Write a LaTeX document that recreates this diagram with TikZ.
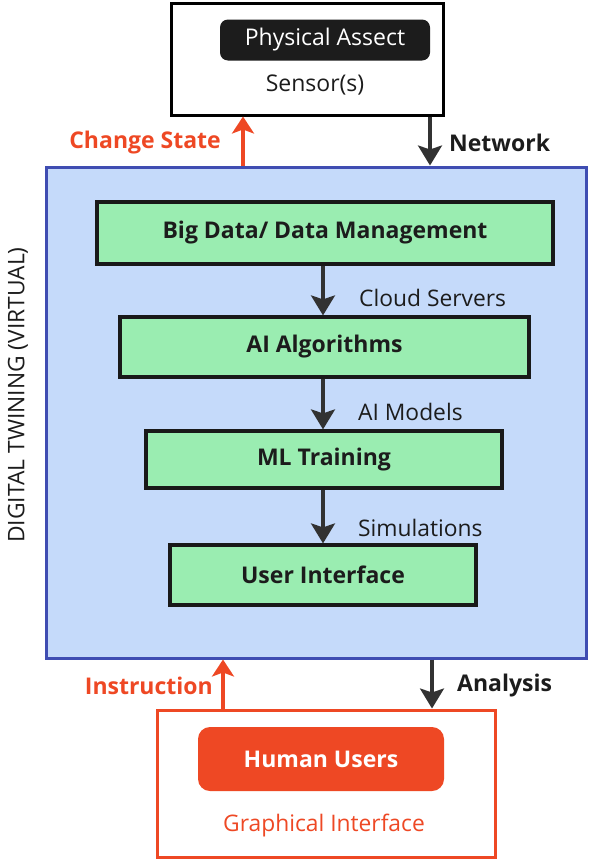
\documentclass[tikz,border=0pt]{standalone}
\usepackage{fontspec}
\setmainfont{Open Sans}
\usetikzlibrary{arrows.meta,calc}
\definecolor{dtred}{RGB}{238,72,36}
\definecolor{dtblue}{RGB}{197,218,250}
\definecolor{dtblueb}{RGB}{63,77,178}
\definecolor{dtgreen}{RGB}{154,237,177}
\definecolor{dtdark}{RGB}{28,28,28}
\definecolor{dtarrow}{RGB}{50,50,50}
\tikzset{
  frame/.style={draw, line width=3pt, inner sep=0pt},
  stepbox/.style={draw=black!90, fill=dtgreen, line width=3.2pt, inner sep=0pt, font=\bfseries\fontsize{23}{27}\selectfont, text=dtdark},
  lbl/.style={font=\fontsize{22.8}{27}\selectfont, inner sep=0pt},
  blbl/.style={font=\bfseries\fontsize{23}{27}\selectfont, inner sep=0pt},
  darr/.style={draw=dtarrow, line width=3.2pt, -{Stealth[length=20pt,width=24pt,inset=4pt]}},
  rarr/.style={draw=dtred, line width=3.2pt, -{Stealth[length=17pt,width=22pt,inset=4pt]}},
}
\begin{document}
\begin{tikzpicture}[x=1pt,y=-1pt]
\useasboundingbox (0,0) rectangle (598,865);
% top box
\node[frame, draw=black, fill=white, minimum width=272, minimum height=112] (top) at (307,59) {};
\node[fill=dtdark, rounded corners=8pt, minimum width=210, minimum height=41, inner sep=0pt, text=white, font=\fontsize{23}{27}\selectfont] (pa) at (325,40) {Physical Assect};
\node[lbl, text=dtdark, font=\fontsize{23}{27}\selectfont] (sen) at (315,85) {Sensor(s)};
% blue box
\node[frame, draw=dtblueb, fill=dtblue, minimum width=540, minimum height=491] (dt) at (316,412.5) {};
\node[lbl, text=dtdark, rotate=90] (dtl) at (18,395) {DIGITAL TWINING (VIRTUAL)};
% green steps
\node[stepbox, minimum width=456, minimum height=62] (bd) at (325,233) {Big Data/ Data Management};
\node[stepbox, minimum width=409, minimum height=60] (ai) at (324.5,347) {AI Algorithms};
\node[stepbox, minimum width=356, minimum height=57] (ml) at (324,459.5) {ML Training};
\node[stepbox, minimum width=306, minimum height=60] (ui) at (323,575) {User Interface};
% bottom box
\node[frame, draw=dtred, fill=white, minimum width=338, minimum height=147] (bot) at (326,783.5) {};
\node[fill=dtred, rounded corners=12pt, minimum width=246, minimum height=64, inner sep=0pt, text=white, font=\bfseries\fontsize{23}{27}\selectfont] (hu) at (321,759) {Human Users};
\node[lbl, text=dtred] (gi) at (324,826) {Graphical Interface};
% connector x positions
\coordinate (xcs) at (243,0);
\coordinate (xnw) at (430,0);
\coordinate (xin) at (323,0);
\coordinate (xins) at (223,0);
\coordinate (xan) at (432,0);
% outer arrows
\draw[rarr] (dt.north -| xcs) -- (top.south -| xcs);
\draw[darr] (top.south -| xnw) -- (dt.north -| xnw);
\draw[rarr] (bot.north -| xins) -- (dt.south -| xins);
\draw[darr] (dt.south -| xan) -- (bot.north -| xan);
% inner arrows
\draw[darr] (bd.south -| xin) -- (ai.north -| xin);
\draw[darr] (ai.south -| xin) -- (ml.north -| xin);
\draw[darr] (ml.south -| xin) -- (ui.north -| xin);
% labels
\node[blbl, text=dtred, anchor=east] (lcs) at (221,143) {Change State};
\node[blbl, text=dtdark, anchor=west] (lnw) at (449,143) {Network};
\node[lbl, text=dtdark, anchor=west] (lcl) at (359,298) {Cloud Servers};
\node[lbl, text=dtdark, anchor=west] (lam) at (358,412) {AI Models};
\node[lbl, text=dtdark, anchor=west] (lsi) at (358,528) {Simulations};
\node[blbl, text=dtred, anchor=east] (lins) at (213,686) {Instruction};
\node[blbl, text=dtdark, anchor=west] (lan) at (457,686) {Analysis};
\end{tikzpicture}
\end{document}
